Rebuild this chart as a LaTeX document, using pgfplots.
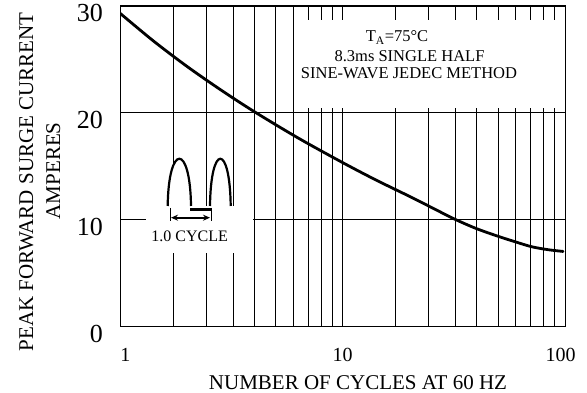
\documentclass[border=0pt]{standalone}
\usepackage{fontspec}
\setmainfont{Liberation Serif}
\usepackage{pgfplots}
\pgfplotsset{compat=1.18}
\usetikzlibrary{arrows.meta}
\begin{document}
\begin{tikzpicture}[x=1pt,y=1pt]
\useasboundingbox (0,0) rectangle (587,393);
\begin{axis}[
  at={(120.3pt,66.3pt)}, anchor=south west,
  scale only axis, width=444.7pt, height=320.7pt,
  xmode=log, log basis x=10,
  xmin=1, xmax=100, ymin=0, ymax=30,
  xtick={1,10,100}, xticklabels={\hspace*{10pt}1,10,100\hspace*{9pt}},
  minor xtick={1.73,2.43,3.24,4,5,6,7,8,9,17.3,24.2,32.2,40,50,60,70,80,90},
  ytick={0,10,20,30},
  xmajorgrids, xminorgrids, ymajorgrids,
  grid style={black, line width=0.8pt},
  minor grid style={black, line width=0.8pt},
  major tick length=0pt, minor tick length=0pt,
  axis line style={black, line width=1pt},
  /pgf/number format/assume math mode=true,
  xticklabel style={font=\fontsize{20}{20}\selectfont, anchor=base, inner sep=0pt, yshift=-35pt},
  yticklabel style={font=\fontsize{26}{26}\selectfont, anchor=east, inner sep=0pt, xshift=-17.3pt, yshift=-7pt},
]
\addplot[black, line width=2.8pt, smooth, line cap=round] coordinates {
(1.0,29.3) (1.413,26.71) (1.995,24.35) (2.818,22.18) (3.981,20.15)
(6.31,17.65) (10.0,15.35) (14.13,13.72) (19.95,12.2) (25.12,11.15)
(31.62,10.1) (39.81,9.19) (50.12,8.45) (59.57,7.95) (70.79,7.48)
(84.14,7.2) (98.0,7.04)
};
\end{axis}
% annotation box
\fill[white] (300,285) rectangle (564.4,373);
\node[font=\fontsize{16.5}{16.5}\selectfont, anchor=base] at (397,351.3) {T\textsubscript{A}=75°C};
\node[font=\fontsize{16.5}{16.5}\selectfont, anchor=base] at (409.5,331.3) {8.3ms SINGLE HALF};
\node[font=\fontsize{16.5}{16.5}\selectfont, anchor=base] at (409,314.7) {SINE-WAVE JEDEC METHOD};
% inset
\fill[white] (146,140) rectangle (253,187);
\filldraw[fill=white, draw=black, line width=2.2pt] (167.7,187) .. controls (168.5,250) and (190.2,250) .. (191,187);
\filldraw[fill=white, draw=black, line width=2.2pt] (210,187) .. controls (210.8,250) and (229.9,250) .. (230.7,187);
\draw[line width=2.5pt] (190,183.7) -- (211,183.7);
\draw[line width=0.8pt] (170,185) -- (170,172);
\draw[line width=0.8pt] (211,185) -- (211,172);
\draw[{Stealth[length=7pt,width=6pt]}-{Stealth[length=7pt,width=6pt]}, line width=1.8pt] (171,175.3) -- (210,175.3);
\node[font=\fontsize{16}{16}\selectfont, anchor=base] at (189.7,151.3) {1.0 CYCLE};
% axis labels
\node[font=\fontsize{21}{21}\selectfont, anchor=base, rotate=90] at (33,211) {PEAK FORWARD SURGE CURRENT};
\node[font=\fontsize{21}{21}\selectfont, anchor=base, rotate=90] at (60,222.2) {AMPERES};
\node[font=\fontsize{21}{21}\selectfont, anchor=base] at (358,3.5) {NUMBER OF CYCLES AT 60 HZ};
\end{tikzpicture}
\end{document}
